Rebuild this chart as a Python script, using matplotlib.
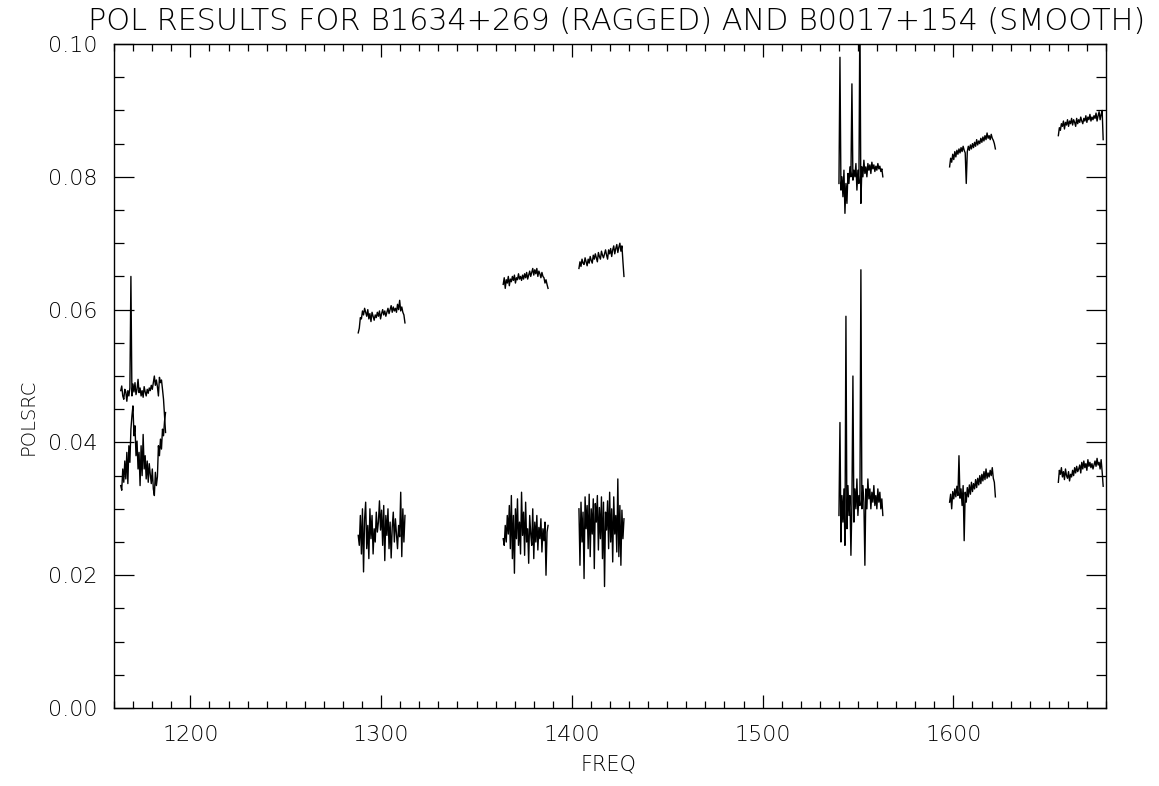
import numpy as np
import matplotlib
matplotlib.use('Agg')
import matplotlib.pyplot as plt
from matplotlib.ticker import MultipleLocator, FormatStrFormatter

plt.rcParams['font.family'] = ['DejaVu Sans']
plt.rcParams['font.weight'] = 'light'

# frequency ranges of the 7 sub-bands (MHz)
seg_start = [1163.5, 1288.0, 1364.0, 1403.7, 1540.0, 1598.0, 1655.0]
seg_end = [1187.0, 1312.5, 1387.5, 1427.3, 1563.0, 1622.0, 1678.5]

# B0017+154 (smooth)
smooth1 = [0.0478, 0.0485, 0.0470, 0.0465, 0.0480, 0.0476, 0.0462, 0.0478, 0.0470, 0.0482,
           0.0650, 0.0470, 0.0488, 0.0476, 0.0490, 0.0472, 0.0480, 0.0495, 0.0475, 0.0482,
           0.0470, 0.0478, 0.0468, 0.0484, 0.0476, 0.0470, 0.0480, 0.0474, 0.0482, 0.0478,
           0.0486, 0.0480, 0.0490, 0.0500, 0.0486, 0.0494, 0.0484, 0.0470, 0.0498, 0.0490,
           0.0494, 0.0480, 0.0465, 0.0440, 0.0415]
smooth2 = [0.0565, 0.0572, 0.0588, 0.0586, 0.0598, 0.0592, 0.0602, 0.0596, 0.0590, 0.0600,
           0.0586, 0.0594, 0.0582, 0.0596, 0.0590, 0.0584, 0.0592, 0.0588, 0.0596, 0.0590,
           0.0598, 0.0586, 0.0594, 0.0600, 0.0592, 0.0598, 0.0590, 0.0596, 0.0602, 0.0594,
           0.0600, 0.0606, 0.0596, 0.0604, 0.0598, 0.0602, 0.0596, 0.0608, 0.0600, 0.0614,
           0.0598, 0.0604, 0.0596, 0.0592, 0.0580]
smooth3 = [0.0638, 0.0648, 0.0632, 0.0645, 0.0640, 0.0650, 0.0636, 0.0646, 0.0642, 0.0650,
           0.0644, 0.0652, 0.0640, 0.0648, 0.0645, 0.0654, 0.0646, 0.0650, 0.0644, 0.0652,
           0.0646, 0.0654, 0.0648, 0.0656, 0.0646, 0.0652, 0.0658, 0.0650, 0.0656, 0.0662,
           0.0652, 0.0660, 0.0654, 0.0662, 0.0650, 0.0658, 0.0654, 0.0648, 0.0656, 0.0650,
           0.0648, 0.0640, 0.0645, 0.0638, 0.0632]
smooth4 = [0.0662, 0.0672, 0.0665, 0.0676, 0.0670, 0.0668, 0.0678, 0.0672, 0.0666, 0.0676,
           0.0670, 0.0680, 0.0674, 0.0670, 0.0682, 0.0676, 0.0684, 0.0678, 0.0672, 0.0686,
           0.0680, 0.0676, 0.0688, 0.0682, 0.0678, 0.0684, 0.0690, 0.0682, 0.0676, 0.0690,
           0.0684, 0.0692, 0.0680, 0.0690, 0.0696, 0.0684, 0.0692, 0.0698, 0.0686, 0.0694,
           0.0700, 0.0688, 0.0696, 0.0672, 0.0650]
smooth5 = [0.0790, 0.0980, 0.0780, 0.0800, 0.0770, 0.0810, 0.0745, 0.0790, 0.0760, 0.0805,
           0.0790, 0.0815, 0.0800, 0.0940, 0.0795, 0.0810, 0.0800, 0.0820, 0.0780, 0.0810,
           0.0790, 0.1050, 0.0760, 0.0815, 0.0800, 0.0825, 0.0805, 0.0815, 0.0800, 0.0820,
           0.0810, 0.0818, 0.0805, 0.0822, 0.0812, 0.0818, 0.0808, 0.0816, 0.0810, 0.0820,
           0.0812, 0.0816, 0.0808, 0.0812, 0.0800]
smooth6 = [0.0815, 0.0828, 0.0822, 0.0834, 0.0826, 0.0838, 0.0830, 0.0840, 0.0834, 0.0842,
           0.0836, 0.0844, 0.0838, 0.0846, 0.0840, 0.0836, 0.0790, 0.0838, 0.0846, 0.0840,
           0.0848, 0.0842, 0.0850, 0.0844, 0.0852, 0.0846, 0.0856, 0.0848, 0.0854, 0.0850,
           0.0858, 0.0852, 0.0860, 0.0854, 0.0862, 0.0856, 0.0866, 0.0858, 0.0862, 0.0856,
           0.0864, 0.0858, 0.0855, 0.0850, 0.0842]
smooth7 = [0.0862, 0.0874, 0.0870, 0.0880, 0.0876, 0.0884, 0.0872, 0.0882, 0.0878, 0.0886,
           0.0876, 0.0884, 0.0880, 0.0888, 0.0878, 0.0886, 0.0882, 0.0876, 0.0888, 0.0880,
           0.0886, 0.0882, 0.0890, 0.0884, 0.0880, 0.0888, 0.0884, 0.0892, 0.0882, 0.0890,
           0.0886, 0.0894, 0.0884, 0.0890, 0.0886, 0.0892, 0.0888, 0.0896, 0.0884, 0.0892,
           0.0898, 0.0886, 0.0894, 0.0900, 0.0856]

# B1634+269 (ragged)
ragged1 = [0.0335, 0.0328, 0.0360, 0.0340, 0.0372, 0.0345, 0.0385, 0.0338, 0.0395, 0.0370,
           0.0420, 0.0440, 0.0455, 0.0410, 0.0425, 0.0380, 0.0402, 0.0360, 0.0385, 0.0335,
           0.0395, 0.0350, 0.0412, 0.0360, 0.0380, 0.0345, 0.0372, 0.0340, 0.0368, 0.0352,
           0.0338, 0.0360, 0.0330, 0.0320, 0.0355, 0.0335, 0.0348, 0.0395, 0.0380, 0.0405,
           0.0390, 0.0420, 0.0410, 0.0432, 0.0445]
ragged2 = [0.0260, 0.0245, 0.0290, 0.0232, 0.0300, 0.0205, 0.0285, 0.0310, 0.0240, 0.0275,
           0.0225, 0.0300, 0.0255, 0.0290, 0.0232, 0.0270, 0.0250, 0.0295, 0.0265, 0.0280,
           0.0312, 0.0268, 0.0298, 0.0245, 0.0305, 0.0222, 0.0290, 0.0260, 0.0300, 0.0240,
           0.0280, 0.0226, 0.0272, 0.0295, 0.0250, 0.0285, 0.0262, 0.0240, 0.0275, 0.0258,
           0.0325, 0.0228, 0.0300, 0.0250, 0.0290]
ragged3 = [0.0255, 0.0245, 0.0275, 0.0250, 0.0290, 0.0262, 0.0305, 0.0240, 0.0320, 0.0225,
           0.0290, 0.0203, 0.0300, 0.0255, 0.0315, 0.0245, 0.0280, 0.0232, 0.0325, 0.0260,
           0.0295, 0.0230, 0.0310, 0.0250, 0.0270, 0.0218, 0.0290, 0.0262, 0.0245, 0.0300,
           0.0225, 0.0280, 0.0250, 0.0290, 0.0238, 0.0272, 0.0255, 0.0285, 0.0235, 0.0270,
           0.0252, 0.0280, 0.0200, 0.0265, 0.0275]
ragged4 = [0.0300, 0.0215, 0.0310, 0.0250, 0.0295, 0.0195, 0.0318, 0.0270, 0.0305, 0.0240,
           0.0322, 0.0228, 0.0300, 0.0262, 0.0315, 0.0210, 0.0308, 0.0280, 0.0320, 0.0238,
           0.0302, 0.0255, 0.0318, 0.0225, 0.0310, 0.0183, 0.0295, 0.0268, 0.0312, 0.0240,
           0.0325, 0.0250, 0.0300, 0.0220, 0.0318, 0.0262, 0.0290, 0.0235, 0.0345, 0.0228,
           0.0305, 0.0215, 0.0298, 0.0255, 0.0285]
ragged5 = [0.0290, 0.0430, 0.0250, 0.0320, 0.0280, 0.0330, 0.0245, 0.0590, 0.0270, 0.0335,
           0.0290, 0.0320, 0.0230, 0.0310, 0.0500, 0.0280, 0.0330, 0.0300, 0.0345, 0.0290,
           0.0320, 0.0305, 0.0660, 0.0300, 0.0335, 0.0310, 0.0215, 0.0330, 0.0300, 0.0345,
           0.0315, 0.0330, 0.0300, 0.0325, 0.0310, 0.0335, 0.0305, 0.0320, 0.0300, 0.0330,
           0.0310, 0.0325, 0.0300, 0.0315, 0.0290]
ragged6 = [0.0310, 0.0322, 0.0300, 0.0326, 0.0315, 0.0330, 0.0318, 0.0334, 0.0320, 0.0380,
           0.0316, 0.0330, 0.0305, 0.0335, 0.0252, 0.0325, 0.0310, 0.0332, 0.0318, 0.0336,
           0.0322, 0.0340, 0.0326, 0.0338, 0.0330, 0.0344, 0.0332, 0.0346, 0.0336, 0.0350,
           0.0338, 0.0352, 0.0342, 0.0356, 0.0344, 0.0360, 0.0346, 0.0354, 0.0348, 0.0358,
           0.0350, 0.0362, 0.0346, 0.0340, 0.0318]
ragged7 = [0.0340, 0.0358, 0.0352, 0.0362, 0.0348, 0.0356, 0.0344, 0.0360, 0.0350, 0.0346,
           0.0356, 0.0342, 0.0352, 0.0348, 0.0358, 0.0350, 0.0362, 0.0354, 0.0364, 0.0356,
           0.0360, 0.0366, 0.0354, 0.0370, 0.0360, 0.0372, 0.0362, 0.0368, 0.0358, 0.0374,
           0.0364, 0.0370, 0.0362, 0.0368, 0.0360, 0.0366, 0.0372, 0.0364, 0.0376, 0.0366,
           0.0370, 0.0360, 0.0374, 0.0356, 0.0334]

smooth = [smooth1, smooth2, smooth3, smooth4, smooth5, smooth6, smooth7]
ragged = [ragged1, ragged2, ragged3, ragged4, ragged5, ragged6, ragged7]

fig = plt.figure(figsize=(11.59, 7.86), dpi=100)
ax = fig.add_axes([0.0984, 0.0992, 0.8559, 0.8448])

for f0, f1, s, r in zip(seg_start, seg_end, smooth, ragged):
    ax.plot(np.linspace(f0, f1, len(s)), s, color='black', lw=1.0)
    ax.plot(np.linspace(f0, f1, len(r)), r, color='black', lw=1.0)

ax.set_xlim(1160, 1680)
ax.set_ylim(0, 0.1)
ax.xaxis.set_major_locator(MultipleLocator(100))
ax.xaxis.set_minor_locator(MultipleLocator(10))
ax.yaxis.set_major_locator(MultipleLocator(0.02))
ax.yaxis.set_minor_locator(MultipleLocator(0.005))
ax.yaxis.set_major_formatter(FormatStrFormatter('%.2f'))

ax.tick_params(which='both', direction='in', top=True, right=True, width=0.9, labelsize=16)
ax.tick_params(axis='x', which='major', length=9.5, pad=12)
ax.tick_params(axis='x', which='minor', length=5)
ax.tick_params(axis='y', which='major', length=14.5, pad=12)
ax.tick_params(axis='y', which='minor', length=7.2)
for sp in ax.spines.values():
    sp.set_linewidth(1.0)

fig.text(0.532, 0.973, 'POL RESULTS FOR B1634+269 (RAGGED) AND B0017+154 (SMOOTH)',
         ha='center', va='center', fontsize=21.8)
fig.text(0.5246, 0.027, 'FREQ', ha='center', va='center', fontsize=15)
fig.text(0.024, 0.47, 'POLSRC', ha='center', va='center', rotation=90, fontsize=14)

fig.savefig('out.png', dpi=100)
